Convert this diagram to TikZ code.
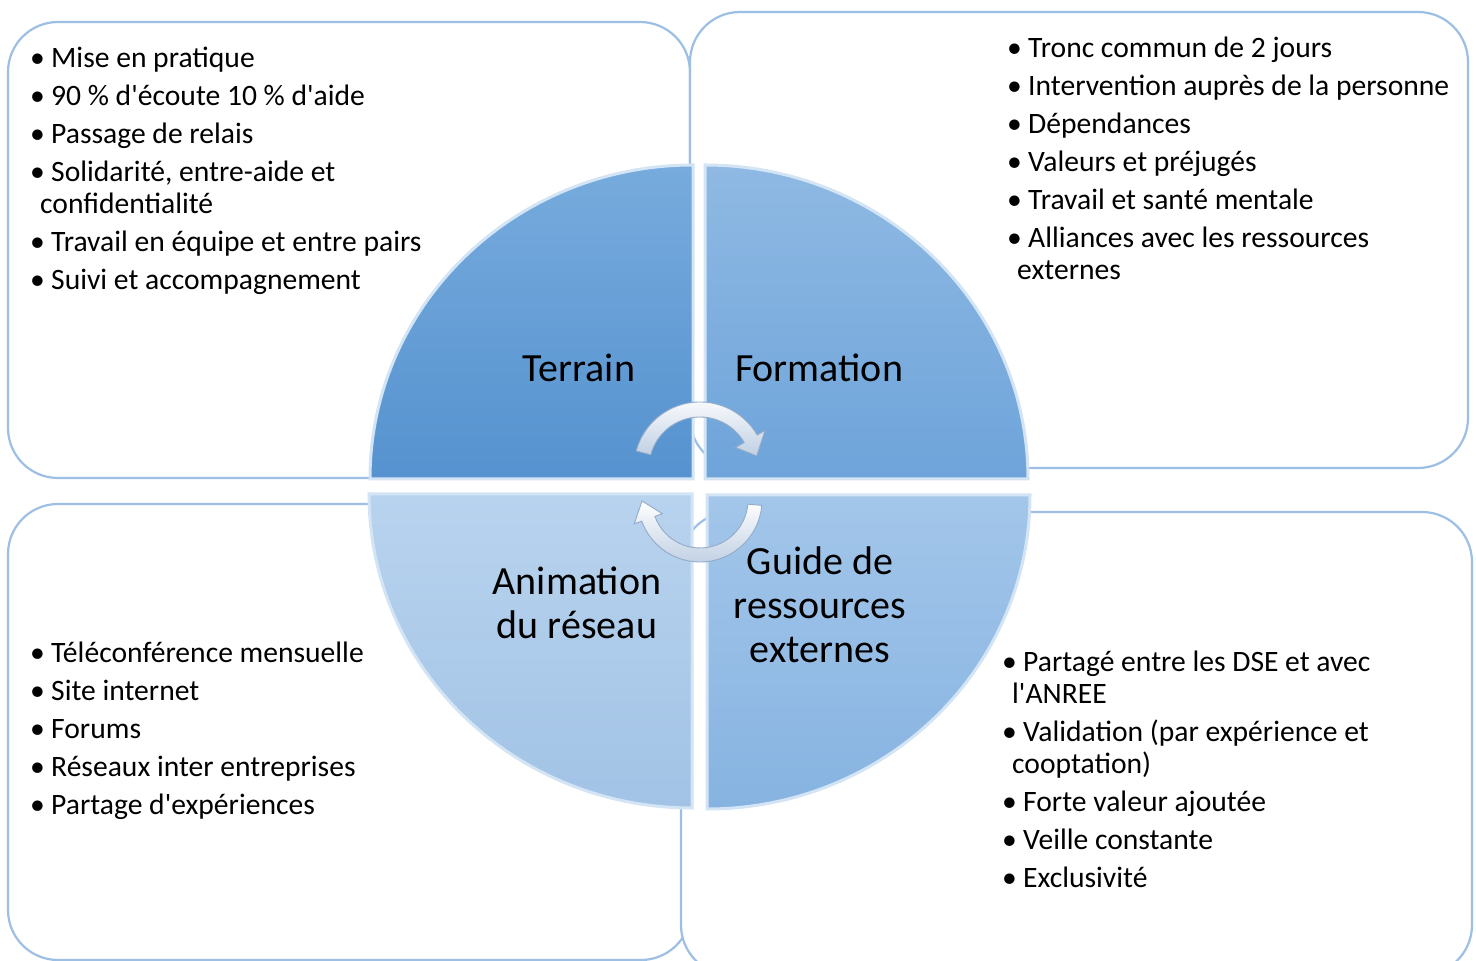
\documentclass[tikz,border=0pt]{standalone}
\usepackage{fontspec}
\setmainfont{Carlito}[Ligatures=TeXOff]
\usetikzlibrary{calc}
\definecolor{boxline}{HTML}{9DBFE4}
\definecolor{bevel}{HTML}{D3E4F5}
\definecolor{arwline}{HTML}{93ABC8}
\definecolor{arwdark}{HTML}{BFCFE3}
\definecolor{tlA}{HTML}{77ABDD}\definecolor{tlB}{HTML}{5592CF}
\definecolor{trA}{HTML}{8FB9E3}\definecolor{trB}{HTML}{6EA4DA}
\definecolor{brA}{HTML}{A3C6EA}\definecolor{brB}{HTML}{86B3E1}
\definecolor{blA}{HTML}{B8D3EE}\definecolor{blB}{HTML}{A2C3E6}
\newcommand\bitem{\makebox[21pt][l]{•}}
\tikzset{
  qbox/.style={draw=boxline, line width=2.2, fill=white, rounded corners=50, inner sep=0},
  sector/.style={draw=bevel, line width=3},
  txt/.style={align=left, anchor=base west, inner sep=0, font=\fontsize{29.6}{32}\selectfont},
  lab/.style={align=center, anchor=base, inner sep=0, font=\fontsize{40}{44}\selectfont},
  arw/.style={draw=arwline, line width=0.9, top color=white, bottom color=arwdark}
}
\begin{document}
\begin{tikzpicture}[x=1pt,y=1pt]
\useasboundingbox (0,0) rectangle (1476,961);
% outer boxes
\node[qbox, minimum width=682, minimum height=456] (boxTL) at (349,711) {};
\node[qbox, minimum width=778, minimum height=456] (boxTR) at (1079,721) {};
\node[qbox, minimum width=683, minimum height=456] (boxBL) at (349.5,229) {};
\node[qbox, minimum width=791, minimum height=463] (boxBR) at (1076.5,217.5) {};
% pie quarters
\path[sector, top color=tlA, bottom color=tlB] (693,482) -- ++(-323,0)
  arc[start angle=180, end angle=90, x radius=323, y radius=314] -- cycle;
\path[sector, top color=trA, bottom color=trB] (705,482) -- ++(0,314)
  arc[start angle=90, end angle=0, x radius=323, y radius=314] -- cycle;
\path[sector, top color=brA, bottom color=brB] (707,466) -- ++(323,0)
  arc[start angle=0, end angle=-90, x radius=323, y radius=314] -- cycle;
\path[sector, top color=blA, bottom color=blB] (692,467) -- ++(0,-314)
  arc[start angle=270, end angle=180, x radius=323, y radius=314] -- cycle;
% labels (base = baseline of last line)
\node[lab] (terrain) at (579,579) {Terrain};
\node[lab] (formation) at (819,579) {Formation};
\node[lab] (animation) at (577,322) {Animation\\du réseau};
\node[lab] (guide) at (820,298) {Guide de\\ressources\\externes};
% cycle arrows
\begin{scope}[shift={(700,493)}]
  \draw[arw] (165:66) arc[start angle=165, end angle=30, radius=66] -- (30:75) -- (12:58)
    -- (30:41) -- (30:51) arc[start angle=30, end angle=165, radius=51] -- cycle;
\end{scope}
\begin{scope}[shift={(700,461)}]
  \draw[arw] (-5:62) arc[start angle=-5, end angle=-160, radius=62] -- (-160:70) -- (-179:58)
    -- (-160:40) -- (-160:48) arc[start angle=-160, end angle=-5, radius=48] -- cycle;
\end{scope}
% bullet texts (base = baseline of last line)
\node[txt] (tTL) at (30,671) {\bitem Mise en pratique\\[6pt]
\bitem 90 \% d'écoute 10 \% d'aide\\[6pt]
\bitem Passage de relais\\[6pt]
\bitem Solidarité, entre-aide et\\
\hspace*{10pt}confidentialité\\[6pt]
\bitem Travail en équipe et entre pairs\\[6pt]
\bitem Suivi et accompagnement};
\node[txt] (tTR) at (1007,681) {\bitem Tronc commun de 2 jours\\[6pt]
\bitem Intervention auprès de la personne\\[6pt]
\bitem Dépendances\\[6pt]
\bitem Valeurs et préjugés\\[6pt]
\bitem Travail et santé mentale\\[6pt]
\bitem Alliances avec les ressources\\
\hspace*{10pt}externes};
\node[txt] (tBL) at (30,146) {\bitem Téléconférence mensuelle\\[6pt]
\bitem Site internet\\[6pt]
\bitem Forums\\[6pt]
\bitem Réseaux inter entreprises\\[6pt]
\bitem Partage d'expériences};
\node[txt] (tBR) at (1002,73) {\bitem Partagé entre les DSE et avec\\
\hspace*{10pt}l'ANREE\\[6pt]
\bitem Validation (par expérience et\\
\hspace*{10pt}cooptation)\\[6pt]
\bitem Forte valeur ajoutée\\[6pt]
\bitem Veille constante\\[6pt]
\bitem Exclusivité};
\end{tikzpicture}
\end{document}
